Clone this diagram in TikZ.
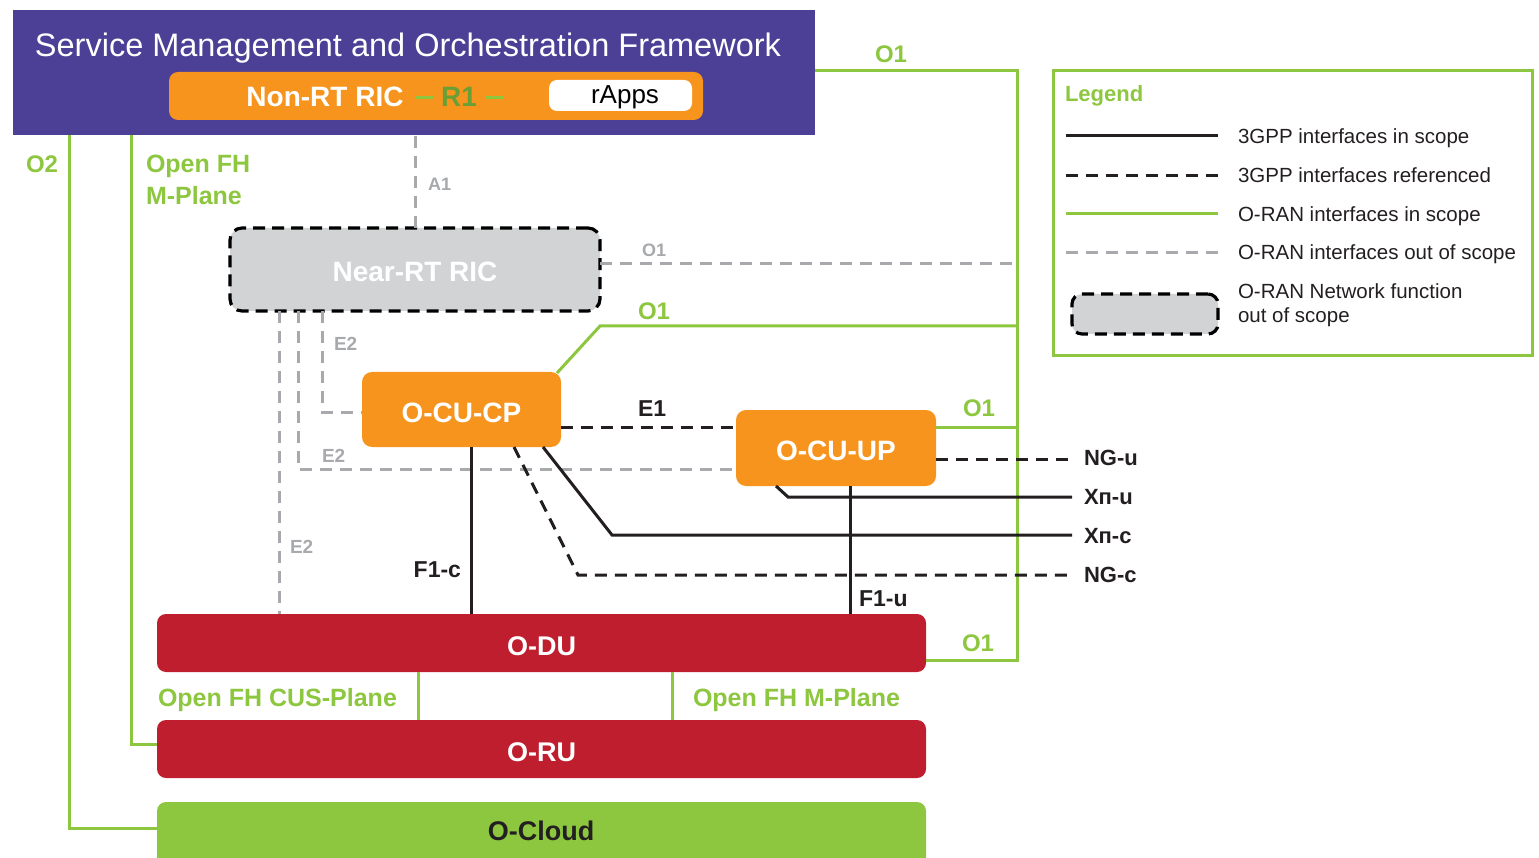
\documentclass[tikz,border=0pt]{standalone}
\usepackage{fontspec}
\setmainfont{Liberation Sans}
\newcommand\fsz[1]{\fontsize{#1pt}{#1pt}\selectfont}
\definecolor{smoc}{HTML}{4B3F96}
\definecolor{orng}{HTML}{F7941D}
\definecolor{grn}{HTML}{8DC63F}
\definecolor{dgrn}{HTML}{6A9F35}
\definecolor{gry}{HTML}{A7A9AC}
\definecolor{lgry}{HTML}{D1D3D4}
\definecolor{crim}{HTML}{BE1E2D}
\definecolor{ink}{HTML}{231F20}
\begin{document}
\begin{tikzpicture}[x=1pt,y=-1pt,
  every node/.style={inner sep=0pt, outer sep=0pt},
  gline/.style={draw=grn, line width=3pt},
  bline/.style={draw=ink, line width=3pt},
  bdash/.style={bline, dash pattern=on 12pt off 8pt},
  gdash/.style={draw=gry, line width=3pt, dash pattern=on 12pt off 8pt},
  obox/.style={fill=orng, rounded corners=10pt, text=white, font=\bfseries\fsz{28}, anchor=north west, text height=25pt, text depth=0pt},
  rbox/.style={fill=crim, rounded corners=9pt, text=white, font=\bfseries\fsz{27}, anchor=north west, minimum width=769pt, minimum height=58pt, text height=24pt, text depth=0pt},
  outbox/.style={fill=lgry, draw=black, line width=3.2pt, dash pattern=on 12pt off 7pt, rounded corners=12pt},
  glab/.style={text=grn, font=\bfseries\fsz{24}},
  graylab/.style={text=gry, font=\bfseries\fsz{19}},
  blab/.style={text=ink, font=\bfseries\fsz{23}},
  leglab/.style={text=ink, font=\fsz{20.5}, anchor=base west}
]
\useasboundingbox (0,0) rectangle (1539,858);

% ---------- boxes ----------
\node[fill=smoc, minimum width=802pt, minimum height=125pt, anchor=north west] (smo) at (13,10) {};
\node[text=white, font=\fsz{32.5}, anchor=base] (smotitle) at (408,57) {Service Management and Orchestration Framework};
\node[fill=orng, rounded corners=9pt, minimum width=534pt, minimum height=48pt, anchor=north west] (nonrt) at (169,72) {};
\node[text=white, font=\bfseries\fsz{28}, anchor=base] (nonrttxt) at (325,107) {Non-RT RIC};
\node[text=dgrn, font=\bfseries\fsz{28}, anchor=base] (r1) at (459,107) {\textcolor{grn}{\rule[0.3em]{18pt}{3pt}}\hspace{8pt}R1\hspace{8pt}\textcolor{grn}{\rule[0.3em]{18pt}{3pt}}};
\node[fill=white, rounded corners=8pt, minimum width=143pt, minimum height=31pt, anchor=north west] (rapps) at (549,80) {};
\node[text=black, font=\fsz{26}, anchor=base] (rappstxt) at (625,104) {rApps};

\node[outbox, minimum width=370pt, minimum height=83pt, anchor=north west] (nearrt) at (230,228) {};
\node[text=white, font=\bfseries\fsz{28}] (nearrttxt) at ([yshift=-2pt]nearrt.center) {Near-RT RIC};

\node[obox, minimum width=199pt, minimum height=75pt] (cucp) at (362,372) {O-CU-CP};
\node[obox, minimum width=200pt, minimum height=76pt] (cuup) at (736,410) {O-CU-UP};

\node[rbox] (odu) at (157,614) {O-DU};
\node[rbox] (oru) at (157,720) {O-RU};
\node[fill=grn, rounded corners=9pt, minimum width=769pt, minimum height=70pt, anchor=north west] (ocloud) at (157,802) {};
\node[text=ink, font=\bfseries\fsz{27}] (ocloudtxt) at (541,831) {O-Cloud};

% ---------- coordinates ----------
\coordinate (o1top) at (1017,71);
\coordinate (o1bot) at (1017,660);
\coordinate (ngu) at (1072,459);
\coordinate (xnu) at (1072,497);
\coordinate (xnc) at (1072,535);
\coordinate (ngc) at (1072,575);

% ---------- green O1 / O2 / M-Plane ----------
\draw[gline] (smo.east |- o1top) -- (o1top) -- (o1bot) -- (odu.east |- o1bot);
\draw[gline] ([xshift=-4pt,yshift=-1pt]cucp.north east) -- (600,326) -- (o1top |- 0,326);
\draw[gline] (cuup.east |- 0,427) -- (o1top |- 0,427);
\draw[gline] (smo.south -| 69,0) -- (69,828) -- (ocloud.west |- 0,828);
\draw[gline] (smo.south -| 131,0) -- (131,744) -- (oru.west |- 0,744);
\draw[gline] (odu.south -| 418,0) -- (oru.north -| 418,0);
\draw[gline] (odu.south -| 672,0) -- (oru.north -| 672,0);

% ---------- gray out-of-scope ----------
\draw[gdash] (nearrt.north) -- (nearrt.north |- smo.south);
\draw[gdash] (nearrt.east |- 0,264) -- (o1top |- 0,264);
\draw[gdash] (nearrt.south -| 322,0) -- (322,412) -- (cucp.west |- 0,412);
\draw[gdash] (nearrt.south -| 298,0) -- (298,469) -- (cuup.west |- 0,469);
\draw[gdash] (nearrt.south -| 279,0) -- (odu.north -| 279,0);

% ---------- 3GPP ----------
\draw[bdash] (cucp.east |- 0,427) -- (cuup.west |- 0,427);
\draw[bline] (cucp.south -| 471,0) -- (odu.north -| 471,0);
\draw[bline] (cuup.south -| 850,0) -- (odu.north -| 850,0);
\draw[bline] (cucp.south -| 543,0) -- (612,535) -- (xnc);
\draw[bdash] (cucp.south -| 514,0) -- (578,575) -- (ngc);
\draw[bline] (cuup.south -| 776,0) -- (788,497) -- (xnu);
\draw[bdash] (cuup.east |- ngu) -- (ngu);

% ---------- labels ----------
\node[glab, anchor=base] (lo1a) at (891,63) {O1};
\node[glab, anchor=base west] (lo2) at (26,173) {O2};
\node[glab, anchor=base west, font=\bfseries\fsz{25}] (lfhm) at (146,173) {Open FH};
\node[glab, anchor=base west, font=\bfseries\fsz{25}] (lfhm2) at (146,205) {M-Plane};
\node[graylab, anchor=base west, font=\bfseries\fsz{18}] (la1) at (428,191) {A1};
\node[graylab, anchor=base west, font=\bfseries\fsz{18}] (lo1g) at (642,257) {O1};
\node[glab, anchor=base west] (lo1b) at (638,320) {O1};
\node[graylab, anchor=base west] (le2a) at (334,351) {E2};
\node[blab, anchor=base west] (le1) at (638,416) {E1};
\node[glab, anchor=base west] (lo1c) at (963,416) {O1};
\node[graylab, anchor=base west] (le2b) at (322,462) {E2};
\node[graylab, anchor=base west] (le2c) at (290,553) {E2};
\node[blab, anchor=base east] (lf1c) at (461,577) {F1-c};
\node[blab, anchor=base west] (lf1u) at (859,606) {F1-u};
\node[glab, anchor=base west] (lo1d) at (962,651) {O1};
\node[blab, anchor=base west, font=\bfseries\fsz{22}] (lngu) at (1084,465) {NG-u};
\node[blab, anchor=base west, font=\bfseries\fsz{22}] (lxnu) at (1084,504) {Xп-u};
\node[blab, anchor=base west, font=\bfseries\fsz{22}] (lxnc) at (1084,543) {Xп-c};
\node[blab, anchor=base west, font=\bfseries\fsz{22}] (lngc) at (1084,582) {NG-c};
\node[glab, anchor=base west, font=\bfseries\fsz{25}] (lcus) at (158,706) {Open FH CUS-Plane};
\node[glab, anchor=base west, font=\bfseries\fsz{25}] (lfhm3) at (693,706) {Open FH M-Plane};

% ---------- legend ----------
\node[draw=grn, line width=3pt, minimum width=479pt, minimum height=285pt, anchor=north west] (legend) at (1053,71) {};
\node[glab, anchor=base west, font=\bfseries\fsz{22}] (legtitle) at (1065,102) {Legend};
\draw[bline] (1066,136) -- (1218,136);
\draw[bdash] (1066,176) -- (1218,176);
\draw[gline] (1066,214) -- (1218,214);
\draw[gdash] (1066,253) -- (1218,253);
\node[outbox, minimum width=146pt, minimum height=40pt, anchor=north west, rounded corners=10pt] (legbox) at (1072,294) {};
\node[leglab] (l1) at (1238,144) {3GPP interfaces in scope};
\node[leglab] (l2) at (1238,183) {3GPP interfaces referenced};
\node[leglab] (l3) at (1238,222) {O-RAN interfaces in scope};
\node[leglab] (l4) at (1238,260) {O-RAN interfaces out of scope};
\node[leglab] (l5) at (1238,299) {O-RAN Network function};
\node[leglab] (l6) at (1238,323) {out of scope};
\end{tikzpicture}
\end{document}
